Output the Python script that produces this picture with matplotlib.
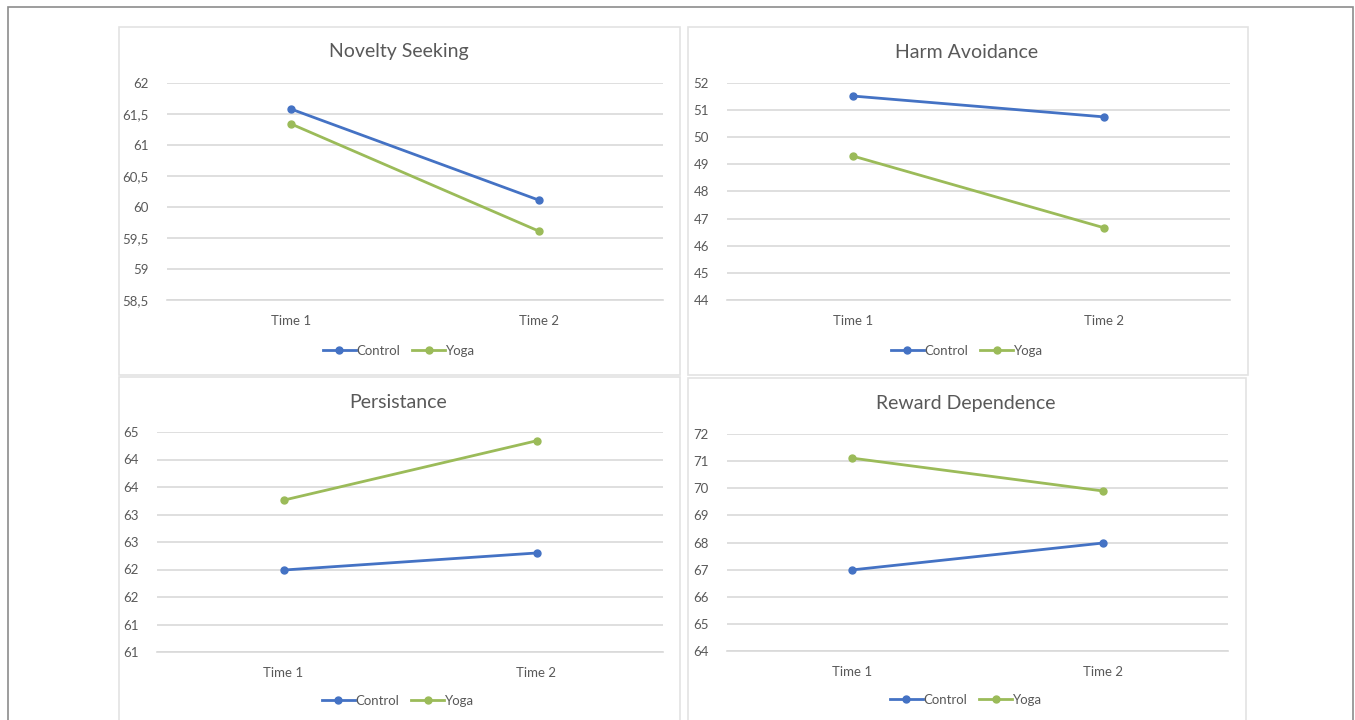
import numpy as np
import matplotlib
matplotlib.use('Agg')
import matplotlib.pyplot as plt
from matplotlib.patches import Rectangle

plt.rcParams['font.family'] = ['Lato', 'DejaVu Sans']

times = ['Time 1', 'Time 2']
groups = ['Control', 'Yoga']

novelty_control = [61.58, 60.11]
novelty_yoga = [61.34, 59.61]
harm_control = [51.52, 50.75]
harm_yoga = [49.31, 46.66]
persist_control = [62.49, 62.80]
persist_yoga = [63.76, 64.84]
reward_control = [66.99, 67.98]
reward_yoga = [71.11, 69.90]

novelty_ticks = [58.5, 59, 59.5, 60, 60.5, 61, 61.5, 62]
novelty_labels = ['58,5', '59', '59,5', '60', '60,5', '61', '61,5', '62']
harm_ticks = [44, 45, 46, 47, 48, 49, 50, 51, 52]
persist_ticks = [61, 61.5, 62, 62.5, 63, 63.5, 64, 64.5, 65]
persist_labels = ['61', '61', '62', '62', '63', '63', '64', '64', '65']
reward_ticks = [64, 65, 66, 67, 68, 69, 70, 71, 72]

W, H = 1355, 720
fig = plt.figure(figsize=(W / 100, H / 100), dpi=100)

blue = '#4472C4'
green = '#9BBB59'
grid = '#D9D9D9'
txt = '#595959'

def fx(px): return px / W
def fy(py): return 1 - py / H

# outer frame and panel boxes
fig.patches.append(Rectangle((fx(8), fy(760)), fx(1353 - 8), (760 - 7) / H,
                             transform=fig.transFigure, fill=False, ec='#8c8c8c', lw=1.2))
for (x0, y0, x1, y1) in [(119, 27, 680, 375), (688, 27, 1248, 375),
                         (119, 377, 680, 760), (688, 378, 1246, 760)]:
    fig.patches.append(Rectangle((fx(x0), fy(y1)), fx(x1 - x0), (y1 - y0) / H,
                                 transform=fig.transFigure, fill=False, ec='#E3E3E3', lw=1.2))

panels = [
    ('Novelty Seeking', novelty_control, novelty_yoga, novelty_ticks, novelty_labels,
     (167, 83, 663, 300), 399, 52, 351),
    ('Harm Avoidance', harm_control, harm_yoga, harm_ticks, [str(t) for t in harm_ticks],
     (727, 83, 1230, 300), 967, 52, 351),
    ('Persistance', persist_control, persist_yoga, persist_ticks, persist_labels,
     (157, 432, 663, 652), 398, 402, 701),
    ('Reward Dependence', reward_control, reward_yoga, reward_ticks, [str(t) for t in reward_ticks],
     (727, 434, 1228, 651), 966, 403, 700),
]

for title, ctrl, yoga, ticks, labels, (x0, y0, x1, y1), tx, ty, ly in panels:
    ax = fig.add_axes([fx(x0), fy(y1), fx(x1 - x0), (y1 - y0) / H])
    xs = np.arange(len(times))
    l1, = ax.plot(xs, ctrl, color=blue, lw=2, marker='o', ms=5, label=groups[0], zorder=3)
    l2, = ax.plot(xs, yoga, color=green, lw=2, marker='o', ms=5, label=groups[1], zorder=3)
    ax.set_xlim(-0.5, 1.5)
    ax.set_ylim(ticks[0], ticks[-1])
    ax.set_yticks(ticks)
    ax.set_yticklabels(labels)
    ax.set_xticks(xs)
    ax.set_xticklabels(times)
    ax.grid(axis='y', color=grid, lw=1.2)
    ax.set_axisbelow(True)
    for s in ['top', 'right', 'left']:
        ax.spines[s].set_visible(False)
    ax.spines['bottom'].set_color(grid)
    ax.spines['bottom'].set_linewidth(1.2)
    ax.tick_params(length=0, labelsize=9.5, colors=txt)
    ax.tick_params(axis='x', pad=11)
    ax.tick_params(axis='y', pad=13)
    fig.text(fx(tx), fy(ty), title, ha='center', va='center', fontsize=14, color=txt)
    fig.legend(handles=[l1, l2], loc='center', bbox_to_anchor=(fx(tx), fy(ly)),
               ncol=2, frameon=False, fontsize=9.5, labelcolor=txt,
               handlelength=2.5, handletextpad=0.05, columnspacing=0.9)

fig.savefig('out.png', dpi=100)
